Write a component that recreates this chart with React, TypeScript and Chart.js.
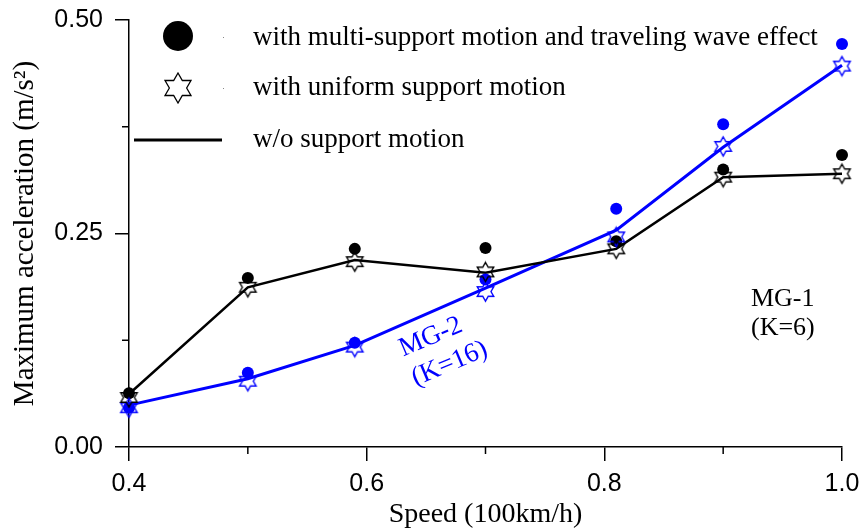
import { useEffect, useRef } from 'react';
import { Chart, registerables } from 'chart.js';

Chart.register(...registerables);

// ---- data ----
const speeds = [0.4, 0.5, 0.59, 0.7, 0.81, 0.9, 1.0];
const mg1Multi = [0.063, 0.198, 0.232, 0.233, 0.241, 0.325, 0.342];
const mg1Uniform = [0.058, 0.187, 0.217, 0.205, 0.232, 0.316, 0.32];
const mg1None = [0.062, 0.187, 0.219, 0.204, 0.232, 0.316, 0.32];
const mg2Multi = [0.046, 0.087, 0.122, 0.196, 0.279, 0.378, 0.472];
const mg2Uniform = [0.046, 0.077, 0.117, 0.182, 0.246, 0.352, 0.446];
const mg2None = [0.049, 0.08, 0.119, 0.186, 0.254, 0.351, 0.447];

const xTickValues = [0.4, 0.6, 0.8, 1.0];
const xMinorTicks = [0.5, 0.7, 0.9];
const yTickValues = [0, 0.25, 0.5];
const yMinorTicks = [0.125, 0.375];

const legendLabels = [
  'with multi-support motion and traveling wave effect',
  'with uniform support motion',
  'w/o support motion',
];
const mg1Text = ['MG-1', '(K=6)'];
const mg1Anchor = [0.9234, 0.1733];
const mg2Text = ['MG-2', '(K=16)'];
const mg2Anchor = [0.6284, 0.1136];

const SERIF = "'Liberation Serif', 'Times New Roman', serif";
const SANS = "'Liberation Sans', Arial, sans-serif";
const BLUE = '#0000ff';

function starPath(g: CanvasRenderingContext2D, cx: number, cy: number, R: number) {
  const r = R / Math.sqrt(3);
  g.beginPath();
  for (let k = 0; k < 12; k++) {
    const a = ((-90 + k * 30) * Math.PI) / 180;
    const rad = k % 2 === 0 ? R : r;
    const px = cx + rad * Math.cos(a);
    const py = cy + rad * Math.sin(a);
    if (k === 0) g.moveTo(px, py);
    else g.lineTo(px, py);
  }
  g.closePath();
}

function makeStar(R: number, color: string, lw: number) {
  const size = Math.ceil(2 * R + lw + 2);
  const c = document.createElement('canvas');
  c.width = size;
  c.height = size;
  const g = c.getContext('2d')!;
  starPath(g, size / 2, size / 2, R);
  g.strokeStyle = color;
  g.lineWidth = lw;
  g.stroke();
  return c;
}

const pts = (ys: number[]) => speeds.map((x, i) => ({ x, y: ys[i] }));

const extras = {
  id: 'extras',
  afterDraw(chart: any) {
    const { ctx, chartArea, scales } = chart;
    const xs = scales.x;
    const ys = scales.y;
    ctx.save();
    // minor ticks
    ctx.strokeStyle = '#000';
    ctx.lineWidth = 1.5;
    xMinorTicks.forEach((v) => {
      const px = xs.getPixelForValue(v);
      ctx.beginPath();
      ctx.moveTo(px, chartArea.bottom);
      ctx.lineTo(px, chartArea.bottom + 7);
      ctx.stroke();
    });
    yMinorTicks.forEach((v) => {
      const py = ys.getPixelForValue(v);
      ctx.beginPath();
      ctx.moveTo(chartArea.left, py);
      ctx.lineTo(chartArea.left - 7, py);
      ctx.stroke();
    });

    // legend
    const L = chartArea.left;
    const T = chartArea.top;
    ctx.fillStyle = '#000';
    ctx.beginPath();
    ctx.arc(L + 49, T + 16, 15, 0, Math.PI * 2);
    ctx.fill();
    starPath(ctx, L + 49, T + 68, 15);
    ctx.fillStyle = '#fff';
    ctx.fill();
    ctx.strokeStyle = '#000';
    ctx.lineWidth = 1.3;
    ctx.stroke();
    ctx.beginPath();
    ctx.lineWidth = 3;
    ctx.moveTo(L + 5, T + 120);
    ctx.lineTo(L + 93, T + 120);
    ctx.stroke();
    ctx.fillStyle = '#888';
    ctx.fillRect(L + 94, T + 17, 1, 1);
    ctx.fillRect(L + 94, T + 68, 1, 1);

    ctx.fillStyle = '#000';
    ctx.font = `27px ${SERIF}`;
    ctx.textAlign = 'left';
    ctx.textBaseline = 'alphabetic';
    const baselines = [T + 25, T + 75, T + 127];
    legendLabels.forEach((t, i) => ctx.fillText(t, L + 124, baselines[i]));

    // annotations
    ctx.textBaseline = 'middle';
    ctx.font = `26px ${SERIF}`;
    const ax1 = xs.getPixelForValue(mg1Anchor[0]);
    const ay1 = ys.getPixelForValue(mg1Anchor[1]);
    ctx.fillStyle = '#000';
    ctx.fillText(mg1Text[0], ax1, ay1);
    ctx.fillText(mg1Text[1], ax1, ay1 + 29);

    const ax2 = xs.getPixelForValue(mg2Anchor[0]);
    const ay2 = ys.getPixelForValue(mg2Anchor[1]);
    ctx.save();
    ctx.translate(ax2, ay2);
    ctx.rotate((-23 * Math.PI) / 180);
    ctx.fillStyle = BLUE;
    ctx.font = `27px ${SERIF}`;
    ctx.fillText(mg2Text[0], 0, 0);
    ctx.fillText(mg2Text[1], 0, 32);
    ctx.restore();

    ctx.restore();
  },
};

export default function App() {
  const ref = useRef<HTMLCanvasElement>(null);
  useEffect(() => {
    document.body.style.margin = '0';
    const starBlack = makeStar(9.5, '#000', 1.4);
    const starBlue = makeStar(9.5, BLUE, 1.4);
    const chart = new Chart(ref.current!, {
      type: 'line',
      data: {
        datasets: [
          { label: 'MG-1 w/o', data: pts(mg1None), borderColor: '#000', borderWidth: 2.5, pointRadius: 0, showLine: true, order: 3, clip: false },
          { label: 'MG-2 w/o', data: pts(mg2None), borderColor: BLUE, borderWidth: 3, pointRadius: 0, showLine: true, order: 3, clip: false },
          { label: 'MG-1 multi', data: pts(mg1Multi), showLine: false, pointStyle: 'circle', pointRadius: 6, pointBorderWidth: 0, pointBackgroundColor: '#000', borderColor: '#000', order: 2, clip: false },
          { label: 'MG-2 multi', data: pts(mg2Multi), showLine: false, pointStyle: 'circle', pointRadius: 6, pointBorderWidth: 0, pointBackgroundColor: BLUE, borderColor: BLUE, order: 2, clip: false },
          { label: 'MG-1 uniform', data: pts(mg1Uniform), showLine: false, pointStyle: starBlack, pointRadius: 9, order: 1, clip: false },
          { label: 'MG-2 uniform', data: pts(mg2Uniform), showLine: false, pointStyle: starBlue, pointRadius: 9, order: 1, clip: false },
        ] as any,
      },
      options: {
        animation: false,
        responsive: true,
        maintainAspectRatio: false,
        events: [],
        layout: { padding: { left: 0, right: 19, top: 20, bottom: 0 } },
        plugins: { legend: { display: false }, tooltip: { enabled: false } },
        scales: {
          x: {
            type: 'linear',
            min: 0.4,
            max: 1.0,
            afterBuildTicks: (s: any) => {
              s.ticks = xTickValues.map((v) => ({ value: v }));
            },
            afterFit: (s: any) => {
              s.height = 84;
              s.paddingLeft = 0;
              s.paddingRight = 0;
            },
            ticks: {
              color: '#000',
              font: { family: SANS, size: 25 },
              padding: 8,
              maxRotation: 0,
              autoSkip: false,
              callback: (v: any) => Number(v).toFixed(1),
            },
            grid: { display: true, drawOnChartArea: false, drawTicks: true, tickLength: 14, color: '#000', lineWidth: 1.5 },
            border: { display: true, color: '#000', width: 1.5 },
            title: {
              display: true,
              text: 'Speed (100km/h)',
              color: '#000',
              font: { family: SERIF, size: 28, lineHeight: 1 },
              padding: { top: 0, bottom: 2 },
            },
          },
          y: {
            type: 'linear',
            min: 0,
            max: 0.5,
            afterBuildTicks: (s: any) => {
              s.ticks = yTickValues.map((v) => ({ value: v }));
            },
            afterFit: (s: any) => {
              s.width = 129;
              s.paddingTop = 0;
              s.paddingBottom = 0;
            },
            ticks: {
              color: '#000',
              font: { family: SANS, size: 25 },
              padding: 12,
              autoSkip: false,
              callback: (v: any) => Number(v).toFixed(2),
            },
            grid: { display: true, drawOnChartArea: false, drawTicks: true, tickLength: 14, color: '#000', lineWidth: 1.5 },
            border: { display: true, color: '#000', width: 1.5 },
            title: {
              display: true,
              text: 'Maximum acceleration (m/s²)',
              color: '#000',
              font: { family: SERIF, size: 29, lineHeight: 1 },
              padding: { top: 11, bottom: 0 },
            },
          },
        },
      } as any,
      plugins: [extras],
    });
    return () => chart.destroy();
  }, []);
  return (
    <div style={{ position: 'absolute', left: 0, top: 0, width: 861, height: 531 }}>
      <canvas ref={ref} />
    </div>
  );
}
